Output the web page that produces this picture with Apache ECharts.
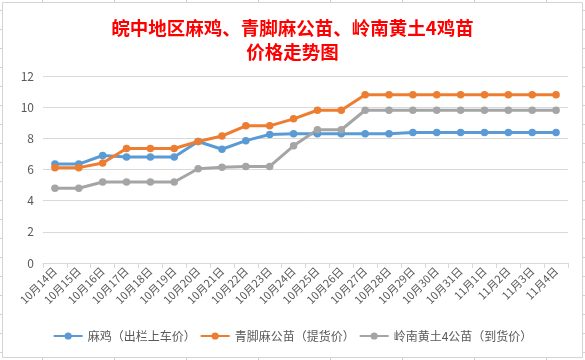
<!DOCTYPE html>
<html>
<head>
<meta charset="utf-8">
<script src="https://cdn.jsdelivr.net/npm/echarts@6/dist/echarts.min.js"></script>
<style>
html,body{margin:0;padding:0;background:#fff;}
#c{width:585px;height:360px;}
</style>
</head>
<body>
<div id="c"></div>
<script>
var categories = ['10月14日','10月15日','10月16日','10月17日','10月18日','10月19日','10月20日','10月21日','10月22日','10月23日','10月24日','10月25日','10月26日','10月27日','10月28日','10月29日','10月30日','10月31日','11月1日','11月2日','11月3日','11月4日'];
var maji = [6.35,6.35,6.9,6.8,6.8,6.8,7.8,7.3,7.85,8.25,8.3,8.3,8.3,8.3,8.3,8.38,8.38,8.38,8.38,8.38,8.38,8.38];
var qingjiao = [6.12,6.12,6.42,7.35,7.35,7.35,7.8,8.15,8.8,8.8,9.25,9.8,9.8,10.8,10.8,10.8,10.8,10.8,10.8,10.8,10.8,10.8];
var lingnan = [4.8,4.8,5.2,5.2,5.2,5.2,6.05,6.15,6.2,6.2,7.52,8.55,8.55,9.8,9.8,9.8,9.8,9.8,9.8,9.8,9.8,9.8];
var seriesNames = ['麻鸡（出栏上车价）','青脚麻公苗（提货价）','岭南黄土4公苗（到货价）'];
var yTicks = {min: 0, max: 12, interval: 2};
var titleText = '皖中地区麻鸡、青脚麻公苗、岭南黄土4鸡苗\n价格走势图';

var font = '"Noto Sans CJK SC", "Microsoft YaHei", sans-serif';
var gridColor = '#D4D4D4';

// spreadsheet background lines (decoration)
var deco = [];
var cols = [42,114,186,258,330,402,474,546];
cols.forEach(function(x){
  deco.push({type:'line', silent:true, z:-10, shape:{x1:x+0.5,y1:0,x2:x+0.5,y2:2}, style:{stroke:gridColor,lineWidth:1}});
  deco.push({type:'line', silent:true, z:-10, shape:{x1:x+0.5,y1:358,x2:x+0.5,y2:360}, style:{stroke:gridColor,lineWidth:1}});
});
for (var y = 10; y <= 352; y += 19) {
  deco.push({type:'line', silent:true, z:-10, shape:{x1:0,y1:y+0.5,x2:2,y2:y+0.5}, style:{stroke:gridColor,lineWidth:1}});
  deco.push({type:'line', silent:true, z:-10, shape:{x1:583,y1:y+0.5,x2:585,y2:y+0.5}, style:{stroke:gridColor,lineWidth:1}});
}
deco.push({type:'rect', silent:true, z:-9, shape:{x:2.5,y:2.5,width:580,height:355}, style:{fill:'#fff', stroke:gridColor, lineWidth:1}});

var colors = ['#5B9BD5','#ED7D31','#A5A5A5'];
var dataSets = [maji, qingjiao, lingnan];

var chart = echarts.init(document.getElementById('c'), null, {renderer:'canvas'});
chart.setOption({
  animation: false,
  backgroundColor: '#fff',
  color: colors,
  textStyle: {fontFamily: font},
  graphic: deco,
  title: {
    text: titleText,
    left: 'center',
    top: 11,
    textStyle: {color:'#FF0000', fontSize:18.5, fontWeight:'bold', lineHeight:24, fontFamily: font}
  },
  legend: {
    bottom: 13,
    left: 'center',
    itemWidth: 29,
    itemHeight: 9,
    itemGap: 4,
    textStyle: {color:'#595959', fontSize:12, fontFamily: font},
    data: seriesNames
  },
  grid: {left:43, right:17, top:76, bottom:97, containLabel:false, outerBoundsMode:'none'},
  xAxis: {
    type: 'category',
    data: categories,
    boundaryGap: true,
    axisLine: {lineStyle:{color:'#D9D9D9', width:1}},
    axisTick: {show:true, length:5, lineStyle:{color:'#D9D9D9'}},
    axisLabel: {rotate:45, interval:0, color:'#595959', fontSize:11, margin:6, fontFamily: font}
  },
  yAxis: {
    type: 'value',
    min: yTicks.min, max: yTicks.max, interval: yTicks.interval,
    axisLine: {show:false},
    axisTick: {show:false},
    splitLine: {lineStyle:{color:'#D9D9D9', width:1}},
    axisLabel: {color:'#595959', fontSize:12, margin:9, fontFamily: font}
  },
  series: dataSets.map(function(d, i){
    return {
      name: seriesNames[i],
      type: 'line',
      data: d,
      symbol: 'circle',
      symbolSize: 7.5,
      lineStyle: {width:3, color: colors[i]},
      itemStyle: {color: colors[i]}
    };
  })
});
</script>
</body>
</html>
